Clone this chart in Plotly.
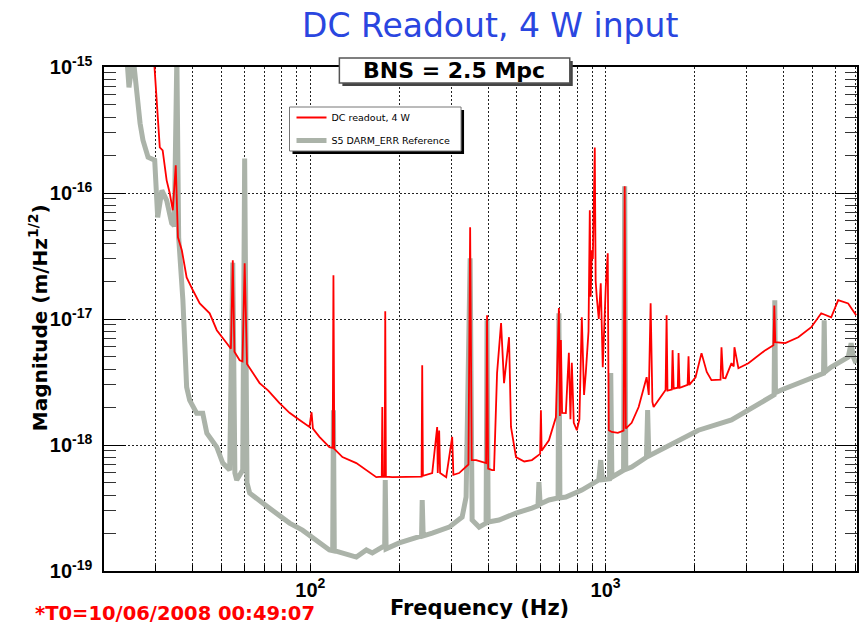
import plotly.graph_objects as go

# ---------------- data ----------------
red_freq_hz = [29.5, 30.9, 31.6, 32.6, 33.4, 34.2, 35.0, 35.6, 36.7, 38.1, 40.0, 42.2, 45.6, 48.2,
               52.1, 53.8, 54.6, 55.3, 57.6, 58.9, 59.9, 61.0, 67.3, 72.0, 78.6, 85.0, 91.9, 99.3,
               100.9, 102.0, 107.3, 116.0, 119.0, 119.7, 120.5, 128.4, 143.1, 154.7, 167.2, 174.5,
               175.2, 176.0, 178.5, 179.3, 180.2, 189.4, 211.2, 228.2, 238.0, 239.2, 240.5, 258.6,
               268.8, 270.0, 273.0, 275.0, 288.4, 302.2, 305.0, 319.0, 336.8, 343.0, 347.6, 352.0,
               364.2, 393.6, 396.6, 400.0, 412.4, 418.8, 428.8, 442.4, 452.8, 470.8, 478.0, 497.0,
               530.0, 562.8, 600.0, 603.6, 607.0, 642.6, 678.4, 694.4, 700.0, 705.4, 712.0, 733.2,
               750.6, 760.0, 768.2, 780.0, 798.8, 815.0, 830.4, 845.0, 856.6, 875.0, 883.8, 890.0,
               897.4, 905.0, 918.8, 925.0, 933.2, 947.8, 962.6, 977.8, 1000.8, 1016.6, 1024.6,
               1048.6, 1100, 1150, 1160.2, 1170, 1225, 1293.6, 1376.6, 1400, 1420.2, 1440, 1453.8,
               1530, 1596, 1608.6, 1620, 1675, 1685.6, 1700, 1755, 1765.8, 1780, 1807.6, 1895,
               1908.6, 1920, 2016, 2112, 2200, 2282, 2450, 2468, 2500, 2546, 2668, 2715, 2730,
               2816, 3044, 3476, 3700, 3726, 3754, 4060, 4492, 4970, 5372, 5806, 6132, 6628, 7052]
red_asd = [1.2e-15, 2.30e-16, 2.18e-16, 1.26e-16, 9.95e-17, 7.29e-17, 1.66e-16, 4.45e-17, 3.51e-17,
           2.14e-17, 1.69e-17, 1.33e-17, 1.11e-17, 8.15e-18,
           6.43e-18, 5.8e-18, 2.93e-17, 5.5e-18, 4.71e-18, 4.6e-18, 2.77e-17, 4.4e-18, 3.1e-18,
           2.7e-18, 2.15e-18, 1.8e-18, 1.58e-18, 1.39e-18,
           1.82e-18, 1.35e-18, 1.16e-18, 9.62e-19, 9.5e-19, 2.22e-17, 9.3e-19, 8.02e-19, 7.18e-19,
           6.32e-19, 5.56e-19, 5.6e-19,
           2.0e-18, 5.6e-19, 5.6e-19, 1.15e-17, 5.6e-19, 5.56e-19, 5.56e-19, 5.56e-19, 5.6e-19,
           4.3e-18, 5.7e-19, 5.99e-19,
           1.39e-18, 6.0e-19, 1.3e-18, 6.0e-19, 5.56e-19, 1.16e-18, 5.8e-19, 5.99e-19, 6.68e-19,
           7.0e-19, 5.35e-17, 7.6e-19,
           7.59e-19, 7.18e-19, 1.07e-17, 6.5e-19, 6.32e-19, 6.32e-19, 3.72e-18, 9.27e-18, 3.10e-18,
           7.17e-18, 1.39e-18, 8.02e-19,
           7.4e-19, 7.59e-19, 8.5e-19, 1.89e-18, 9.0e-19, 1.09e-18, 1.66e-18, 1.22e-17, 1.7e-18,
           6.8e-18, 1.8e-18, 1.79e-18,
           5.4e-18, 1.6e-18, 4.5e-18, 1.5e-18, 1.31e-18, 1.6e-18, 1.03e-17, 2.5e-18, 3.72e-18,
           8.0e-18, 7.29e-17, 1.5e-17,
           3.51e-17, 3.0e-17, 2.3e-16, 2.0e-17, 1.49e-17, 1.0e-17, 1.92e-17, 4.15e-18, 1.79e-17,
           3.32e-17, 1.31e-18,
           1.27e-18, 1.25e-18, 1.3e-18, 1.13e-16, 1.35e-18, 1.5e-18, 2.0e-18, 3.45e-18, 2.5e-18,
           1.33e-17, 2.2e-18, 2.0e-18,
           2.4e-18, 2.73e-18, 1.07e-17, 2.7e-18, 2.75e-18, 5.66e-18, 2.8e-18, 2.85e-18, 5.36e-18,
           2.85e-18, 2.88e-18, 3.0e-18,
           5.07e-18, 3.0e-18, 3.45e-18, 5.36e-18, 3.8e-18, 3.27e-18, 3.3e-18, 5.97e-18, 3.4e-18,
           3.39e-18, 4.46e-18, 4.2e-18, 5.97e-18,
           4.07e-18, 4.46e-18, 5.66e-18, 6.2e-18, 1.28e-17, 6.55e-18, 6.43e-18, 7.17e-18, 8.61e-18,
           1.11e-17, 1.03e-17, 1.41e-17, 1.33e-17, 1.07e-17]

gray_freq_hz = [23.9, 24.3, 25.1, 25.9, 26.5, 27.1, 28.2, 29.7, 30.2, 30.4, 31.4, 32.6, 33.9, 34.6,
                35.3, 35.8, 37.0, 38.1, 39.0, 41.2, 43.2, 44.6, 48.2, 50.5, 53.3, 54.6, 55.5, 56.3,
                59.0, 59.9, 61.0, 62.3, 68.9, 76.8, 85.0, 94.0, 104.9, 116.0, 119.0, 119.7, 120.5,
                128.4, 143.1, 154.7, 162.1, 175.2, 178.5, 179.3, 180.5, 200, 228.2, 238, 239.2, 241,
                258.6, 295.2, 326.6, 336.8, 347.6, 353, 372.8, 393.6, 396.6, 400, 435.4, 497.0,
                562.8, 590, 594.4, 600, 642.6, 690, 694.4, 700, 733.2, 830.4, 947.8, 962.6, 975,
                1030, 1040.6, 1050, 1150, 1160.2, 1170, 1225.2, 1375, 1387.4, 1400, 1596, 2062,
                2668, 3044, 3476, 3720, 3740, 3760, 3934, 4492, 5126, 5470, 5498, 5530, 5806, 6628,
                6784, 6900, 7052]
gray_asd = [1.2e-15, 6.9e-16, 1.2e-15, 5.43e-16, 3.57e-16, 2.62e-16, 1.92e-16, 1.82e-16, 1.05e-16,
            6.41e-17, 1.05e-16, 8.75e-17, 5.75e-17, 5.5e-17,
            1.2e-15, 4.45e-17, 1.41e-17, 2.88e-18, 2.27e-18, 1.79e-18, 1.79e-18, 1.24e-18, 9.62e-19,
            7.18e-19, 6.32e-19, 2.8e-17, 6.0e-19, 5.27e-19,
            6.32e-19, 1.88e-16, 5.0e-19, 4.15e-19, 3.46e-19, 2.88e-19, 2.40e-19, 2.11e-19, 1.76e-19,
            1.47e-19, 1.45e-19, 1.89e-18, 1.45e-19,
            1.39e-19, 1.29e-19, 1.47e-19, 1.39e-19, 1.55e-19, 1.55e-19, 5.27e-19, 1.5e-19, 1.67e-19,
            1.86e-19, 1.9e-19, 3.66e-19, 1.9e-19,
            2.0e-19, 2.23e-19, 2.68e-19, 3.86e-19, 3.03e-17, 2.54e-19, 2.23e-19, 2.40e-19, 9.78e-18,
            2.45e-19, 2.54e-19, 2.88e-19,
            3.16e-19, 3.3e-19, 5.08e-19, 3.4e-19, 3.66e-19, 3.8e-19, 1.11e-17, 3.8e-19, 3.86e-19,
            4.39e-19, 5.27e-19, 7.59e-19, 5.3e-19,
            5.4e-19, 3.72e-18, 5.56e-19, 6.3e-19, 1.13e-16, 6.4e-19, 6.68e-19, 8.0e-19, 1.89e-18,
            8.2e-19, 9.62e-19, 1.31e-18,
            1.58e-18, 1.89e-18, 2.27e-18, 2.5e-18, 1.41e-17, 2.6e-18, 2.73e-18, 3.10e-18, 3.45e-18,
            3.7e-18, 9.78e-18, 3.8e-18, 4.15e-18, 4.98e-18,
            6.43e-18, 5.0e-18, 4.46e-18]

x_grid_hz = [30, 40, 50, 60, 70, 80, 90, 200, 300, 400, 500, 600, 700, 800, 900,
             2000, 3000, 4000, 5000, 6000, 7000]
x_major_hz = [100, 1000]
x_major_text = ["<b>10<sup>2</sup></b>", "<b>10<sup>3</sup></b>"]
y_major = [1e-19, 1e-18, 1e-17, 1e-16, 1e-15]
y_major_text = ["<b>10<sup>-19</sup></b>", "<b>10<sup>-18</sup></b>", "<b>10<sup>-17</sup></b>",
                "<b>10<sup>-16</sup></b>", "<b>10<sup>-15</sup></b>"]
y_minor = [m * 10.0 ** e for e in range(-19, -15) for m in range(2, 10)]

red_name = "DC readout, 4 W"
gray_name = "S5 DARM_ERR Reference"
title_text = "DC Readout, 4 W input"
bns_text = "BNS = 2.5 Mpc"
t0_text = "*T0=10/06/2008 00:49:07"

# ---------------- layout geometry ----------------
W, H = 865, 625
L, R, T, B = 104, 859, 67, 571


def px(x):
    return (x - L) / (R - L)


def py(y):
    return (B - y) / (B - T)


fig = go.Figure()
fig.add_trace(go.Scatter(x=gray_freq_hz, y=gray_asd, mode="lines", name=gray_name,
                         line=dict(color="#abb3a9", width=5), legendgroup="g", legendrank=2))
fig.add_trace(go.Scatter(x=red_freq_hz, y=red_asd, mode="lines", name=red_name,
                         line=dict(color="#ff0000", width=1.8), legendgroup="r", legendrank=1))

dotgrid = "2px,2px"
fig.update_xaxes(type="log", range=[1.30103, 3.8513], tickvals=x_major_hz, ticktext=x_major_text,
                 ticks="inside", ticklen=6, tickcolor="black", tickwidth=1,
                 showgrid=True, gridcolor="#222", griddash=dotgrid, gridwidth=1,
                 minor=dict(tickvals=x_grid_hz, ticks="inside", ticklen=6, tickcolor="black",
                            showgrid=True, gridcolor="#222", griddash=dotgrid, gridwidth=1),
                 showline=True, linecolor="black", linewidth=1.5, mirror=True,
                 tickfont=dict(family="Liberation Sans", size=20, color="black"),
                 ticklabelstandoff=0, zeroline=False)
fig.update_yaxes(type="log", range=[-19, -15], tickvals=y_major, ticktext=y_major_text,
                 ticks="inside", ticklen=22, tickcolor="black", tickwidth=1.2,
                 showgrid=True, gridcolor="#222", griddash=dotgrid, gridwidth=1,
                 minor=dict(tickvals=y_minor, ticks="inside", ticklen=12, tickcolor="#333",
                            tickwidth=1.2, showgrid=False),
                 showline=True, linecolor="black", linewidth=1.5, mirror="ticks",
                 tickfont=dict(family="Liberation Sans", size=20, color="black"),
                 ticklabelstandoff=6, zeroline=False)

shapes = [
    # legend shadow + box
    dict(type="rect", xref="paper", yref="paper", x0=px(293), x1=px(465), y0=py(154), y1=py(110),
         fillcolor="black", line=dict(width=0), layer="above"),
    dict(type="rect", xref="paper", yref="paper", x0=px(290), x1=px(462), y0=py(151), y1=py(107),
         fillcolor="white", line=dict(color="#777", width=1), layer="above"),
    # BNS box shadow + box
    dict(type="rect", xref="paper", yref="paper", x0=px(343), x1=px(574), y0=py(86), y1=py(61),
         fillcolor="#444", line=dict(width=0), layer="above"),
    dict(type="rect", xref="paper", yref="paper", x0=px(340), x1=px(571), y0=py(83), y1=py(58),
         fillcolor="white", line=dict(color="#555", width=1.5), layer="above"),
]

annotations = [
    dict(text=title_text, x=px(491), y=py(25), xref="paper", yref="paper", showarrow=False,
         xanchor="center", yanchor="middle",
         font=dict(family="DejaVu Sans", size=33, color="#2a46e0")),
    dict(text="<b>" + bns_text + "</b>", x=px(455), y=py(71), xref="paper", yref="paper",
         showarrow=False, xanchor="center", yanchor="middle",
         font=dict(family="DejaVu Sans", size=22, color="black")),
    dict(text="<b>Magnitude (m/Hz<sup>1/2</sup>)</b>", x=px(38), y=py(318), xref="paper",
         yref="paper", showarrow=False, textangle=-90, xanchor="center", yanchor="middle",
         font=dict(family="DejaVu Sans", size=20, color="black")),
    dict(text="<b>Frequency (Hz)</b>", x=px(480), y=py(608), xref="paper", yref="paper",
         showarrow=False, xanchor="center", yanchor="middle",
         font=dict(family="DejaVu Sans", size=21, color="black")),
    dict(text="<b>" + t0_text + "</b>", x=px(175), y=py(613), xref="paper", yref="paper",
         showarrow=False, xanchor="center", yanchor="middle",
         font=dict(family="DejaVu Sans", size=19.5, color="#ff0000")),
]

fig.update_layout(
    width=W, height=H,
    margin=dict(l=L, r=W - R, t=T, b=H - B, pad=0),
    paper_bgcolor="white", plot_bgcolor="white",
    shapes=shapes, annotations=annotations,
    showlegend=True,
    legend=dict(x=px(292), y=py(103), xanchor="left", yanchor="top",
                bgcolor="rgba(0,0,0,0)", borderwidth=0, tracegroupgap=4,
                font=dict(family="DejaVu Sans", size=9.5, color="black"),
                itemwidth=30, traceorder="grouped"),
)

fig.write_html("out.html", config={"displayModeBar": False},
               post_script="document.body.style.margin='0';document.body.style.overflow='hidden';")
